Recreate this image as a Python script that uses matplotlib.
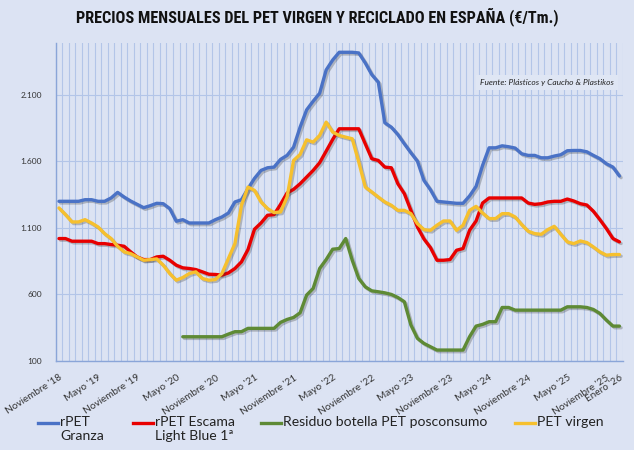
import matplotlib
matplotlib.use("Agg")
import matplotlib.pyplot as plt
import matplotlib.patheffects as pe
from matplotlib import font_manager as fm
from matplotlib.lines import Line2D
from matplotlib.ticker import FixedLocator, FuncFormatter
import numpy as np
import pandas as pd

# ---------------- data ----------------
months = pd.period_range("2018-11", "2026-01", freq="M").strftime("%Y-%m").tolist()

tick_idx = [0, 6, 12, 18, 24, 30, 36, 42, 48, 54, 60, 66, 72, 78, 84, 86]
tick_labels = ["Noviembre '18", "Mayo '19", "Noviembre '19", "Mayo '20", "Noviembre '20",
               "Mayo '21", "Noviembre '21", "Mayo '22", "Noviembre '22", "Mayo '23",
               "Noviembre '23", "Mayo '24", "Noviembre '24", "Mayo '25", "Noviembre '25",
               "Enero '26"]

rpet_granza = [1298, 1298, 1298, 1298, 1310, 1310, 1298, 1298, 1323, 1365,
               1330, 1300, 1275, 1250, 1265, 1283, 1280, 1243, 1148, 1160,
               1135, 1135, 1135, 1135, 1160, 1180, 1210, 1293, 1310, 1393,
               1470, 1530, 1550, 1555, 1613, 1643, 1705, 1855, 1985, 2050,
               2110, 2285, 2360, 2418, 2418, 2418, 2413, 2338, 2250, 2193,
               1888, 1855, 1800, 1730, 1663, 1600, 1455, 1385, 1298, 1293,
               1288, 1283, 1283, 1338, 1410, 1568, 1700, 1700, 1715, 1708,
               1698, 1655, 1643, 1643, 1625, 1625, 1638, 1648, 1678, 1680,
               1680, 1670, 1643, 1618, 1580, 1555, 1488]

rpet_escama = [1018, 1018, 998, 998, 998, 998, 980, 980, 973, 968,
               960, 918, 880, 860, 860, 880, 885, 855, 818, 798,
               793, 785, 768, 750, 748, 743, 760, 793, 843, 935,
               1088, 1135, 1193, 1198, 1275, 1360, 1388, 1430, 1480, 1530,
               1588, 1675, 1763, 1843, 1843, 1843, 1843, 1730, 1618, 1605,
               1555, 1550, 1430, 1355, 1230, 1105, 1015, 950, 855, 855,
               860, 930, 943, 1080, 1150, 1285, 1323, 1323, 1323, 1323,
               1323, 1323, 1285, 1275, 1280, 1293, 1298, 1298, 1315, 1300,
               1280, 1270, 1223, 1160, 1093, 1018, 993]

residuo = [None] * 19 + [
               280, 280, 280, 280, 280, 280, 280, 300, 318, 318,
               343, 343, 343, 343, 343, 388, 410, 425, 460, 593,
               643, 793, 860, 938, 943, 1018, 855, 718, 655, 625,
               618, 610, 598, 575, 543, 368, 268, 230, 205, 180,
               180, 180, 180, 180, 280, 360, 373, 393, 393, 500,
               500, 480, 480, 480, 480, 480, 480, 480, 480, 505,
               505, 505, 500, 485, 455, 405, 360, 360]

pet_virgen = [1248, 1198, 1143, 1143, 1160, 1135, 1105, 1055, 1018, 960,
              918, 905, 880, 855, 860, 865, 818, 755, 705, 725,
              755, 768, 718, 705, 710, 755, 868, 980, 1268, 1405,
              1380, 1293, 1243, 1213, 1218, 1330, 1605, 1650, 1760, 1743,
              1793, 1893, 1818, 1793, 1780, 1768, 1593, 1405, 1368, 1330,
              1293, 1268, 1230, 1230, 1205, 1130, 1085, 1080, 1118, 1150,
              1150, 1080, 1118, 1230, 1260, 1210, 1168, 1168, 1205, 1205,
              1180, 1123, 1073, 1055, 1050, 1085, 1110, 1050, 993, 980,
              1000, 988, 955, 918, 893, 898, 898]

series_labels = ["rPET\nGranza", "rPET Escama\nLight Blue 1ª",
                 "Residuo botella PET posconsumo", "PET virgen"]
series_colors = ["#4a72c6", "#e80000", "#5e8a35", "#f6c02e"]

y_ticks = [100, 600, 1100, 1600, 2100]

# ---------------- style ----------------
BG = "#dce3f3"
GRID = "#b3c5e8"
SPINE = "#8aa5d8"
FONT = ["Lato", "DejaVu Sans"]
plt.rcParams["font.family"] = FONT


def pick_title_font():
    """Find an installed bold narrow/condensed face; return (family, stretch)."""
    prefs = ["Liberation Sans Narrow", "Arial Narrow", "Roboto Condensed",
             "Open Sans Condensed", "Noto Sans Condensed", "DejaVu Sans Condensed",
             "DejaVu Sans"]
    cands = []
    for f in fm.fontManager.ttflist:
        w = f.weight
        if isinstance(w, str):
            w = fm.weight_dict.get(w, 400)
        st = f.stretch
        is_narrow = ("Narrow" in f.name or "Condensed" in f.name or
                     (isinstance(st, str) and "condensed" in st) or
                     (isinstance(st, int) and st < 500))
        if w >= 600 and is_narrow:
            cands.append((f.name, st))
    for p in prefs:
        for name, st in cands:
            if name == p:
                return name, st
    if cands:
        return cands[0]
    return "Liberation Sans", "normal"


title_family, title_stretch = pick_title_font()

fig = plt.figure(figsize=(6.34, 4.5), dpi=100, facecolor=BG)
W, H = 634, 450
ax = fig.add_axes([55.7 / W, 1 - 360.7 / H, (622.7 - 55.7) / W, (360.7 - 42.7) / H])
ax.set_facecolor(BG)

x = np.arange(len(months))
all_series = [rpet_granza, rpet_escama, residuo, pet_virgen]
shadow = [pe.SimpleLineShadow(offset=(1.2, -1.2), shadow_color="#333333", alpha=0.28),
          pe.Normal()]
for vals, col in zip(all_series, series_colors):
    arr = np.array([np.nan if v is None else v for v in vals], dtype=float)
    ax.plot(x, arr, color=col, lw=2.4, solid_joinstyle="round",
            solid_capstyle="round", path_effects=shadow, zorder=3)

ax.set_xlim(-0.5, len(months) - 0.5)
ax.set_ylim(100, 2490)

# grid
ax.xaxis.set_minor_locator(FixedLocator(np.arange(len(months) + 1) - 0.5))
ax.grid(True, which="minor", axis="x", color=GRID, lw=0.8, zorder=0)
ax.set_yticks(y_ticks)
ax.grid(True, which="major", axis="y", color=GRID, lw=0.8, zorder=0)
ax.yaxis.set_major_formatter(FuncFormatter(lambda v, p: f"{int(v):,}".replace(",", ".")))
ax.tick_params(axis="y", length=0, pad=10, labelsize=6, labelcolor="#333333")
ax.tick_params(axis="x", which="both", length=0)

ax.set_xticks(tick_idx)
ax.set_xticklabels(tick_labels, rotation=33, ha="right", va="top",
                   rotation_mode="anchor", fontsize=7.2, color="#333333")
ax.tick_params(axis="x", pad=9)

for s in ["top", "right"]:
    ax.spines[s].set_visible(False)
for s in ["left", "bottom"]:
    ax.spines[s].set_color(SPINE)
    ax.spines[s].set_linewidth(1.0)

# title (font size fitted to the reference width of ~485 px)
title = fig.text(317 / W, 1 - 17 / H,
                 "PRECIOS MENSUALES DEL PET VIRGEN Y RECICLADO EN ESPAÑA (€/Tm.)",
                 ha="center", va="center", fontsize=12, fontweight="bold",
                 color="#111111", family=[title_family, "DejaVu Sans"],
                 fontstretch=title_stretch)
renderer = fig.canvas.get_renderer()
tw = title.get_window_extent(renderer).width
title.set_fontsize(min(13.0, 12 * 485.0 / tw))

# source
ax.text(0.985, 0.875, "Fuente: Plásticos y Caucho & Plastikos", transform=ax.transAxes,
        ha="right", va="center", fontsize=6, style="italic", color="#222222",
        bbox=dict(facecolor="#dfe6f4", edgecolor="none", pad=3), zorder=4)

# legend (manual, handle aligned to first text line)
leg_x = [38, 133, 261, 515]
leg_y = 423
for lx, lab, col in zip(leg_x, series_labels, series_colors):
    fig.add_artist(Line2D([lx / W, (lx + 20) / W], [1 - leg_y / H, 1 - leg_y / H],
                          color=col, lw=2.4, transform=fig.transFigure))
    fig.text((lx + 22) / W, 1 - (leg_y - 7.5) / H, lab, ha="left", va="top",
             fontsize=10.1, color="#222222", linespacing=1.22)

fig.savefig("out.png", dpi=100, facecolor=BG)
